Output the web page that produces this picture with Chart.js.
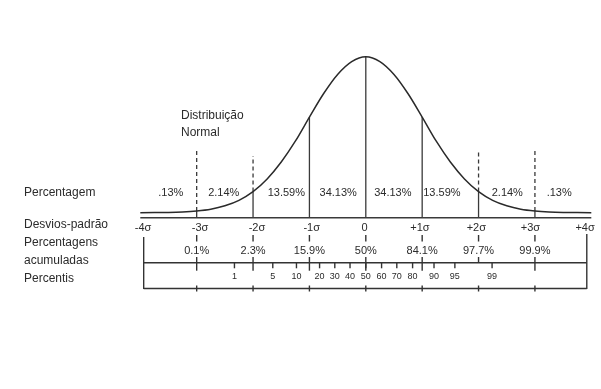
<!DOCTYPE html>
<html>
<head>
<meta charset="utf-8">
<script src="https://cdn.jsdelivr.net/npm/chart.js@4.4.1/dist/chart.umd.min.js"></script>
<style>
  body { margin: 0; background: #fff; }
  #wrap { width: 601px; height: 389px; }
</style>
</head>
<body>
<div id="wrap"><canvas id="grafico"></canvas></div>
<script>
// Curva normal (0 = eixo, 100 = pico)
const curvaX = [-4, -3.75, -3.5, -3.25, -3, -2.75, -2.5, -2.25, -2, -1.75, -1.5, -1.25, -1, -0.75, -0.5, -0.25, 0,
  0.25, 0.5, 0.75, 1, 1.25, 1.5, 1.75, 2, 2.25, 2.5, 2.75, 3, 3.25, 3.5, 3.75, 4];
const curvaY = [3.1, 3.2, 3.3, 3.6, 4.2, 5.3, 7.4, 10.8, 16.2, 24.1, 34.6, 47.5, 62.5, 77, 89, 97, 100,
  97, 89, 77, 62.5, 47.5, 34.6, 24.1, 16.2, 10.8, 7.4, 5.3, 4.2, 3.6, 3.3, 3.2, 3.1];

// Linhas verticais
const sigmas = [-3, -2, -1, 0, 1, 2, 3];
const tracejadoSigma = [-3, -2, 2, 3];
const tracejadoTopo = [41.4, 38.3, 41.4, 41.4];

// Textos
const percentagens = [".13%", "2.14%", "13.59%", "34.13%", "34.13%", "13.59%", "2.14%", ".13%"];
const posPercentagens = [-3.46, -2.52, -1.41, -0.49, 0.48, 1.35, 2.51, 3.43];
const rotulosSigma = ["-4σ", "-3σ", "-2σ", "-1σ", "0", "+1σ", "+2σ", "+3σ", "+4σ"];
const posRotulosSigma = [-3.95, -2.94, -1.93, -0.96, -0.02, 0.96, 1.96, 2.92, 3.89];
const acumuladas = ["0.1%", "2.3%", "15.9%", "50%", "84.1%", "97.7%", "99.9%"];
const percentis = ["1", "5", "10", "20", "30", "40", "50", "60", "70", "80", "90", "95", "99"];
const posPercentis = [-2.33, -1.65, -1.23, -0.82, -0.55, -0.28, 0, 0.28, 0.55, 0.83, 1.21, 1.58, 2.24];

const fonte = '"Liberation Sans", Arial, sans-serif';

let alturaCurva = (s) => curvaY[curvaX.indexOf(s)];

let segmento = (pontos, tracejado, largura) => ({
  data: pontos,
  showLine: true,
  clip: false,
  borderColor: "#3a3a3a",
  borderWidth: largura || 1.3,
  borderDash: tracejado ? [4, 3] : [],
  pointRadius: 0,
});

const datasets = [
  {
    data: curvaX.map((x, i) => ({ x: x, y: curvaY[i] })),
    showLine: true,
    clip: false,
    borderColor: "#2a2a2a",
    borderWidth: 1.5,
    cubicInterpolationMode: "monotone",
    pointRadius: 0,
  },
  segmento([{ x: -4, y: 0 }, { x: 4, y: 0 }], false, 1.6),
  ...sigmas.map((s) => segmento([{ x: s, y: 0 }, { x: s, y: alturaCurva(s) }], false)),
  ...tracejadoSigma.map((s, i) =>
    segmento([{ x: s, y: alturaCurva(s) }, { x: s, y: tracejadoTopo[i] }], true)
  ),
];

// Textos e escalas de baixo
const rotulos = {
  id: "rotulos",
  afterDatasetsDraw(chart) {
    const { ctx } = chart;
    const px = (v) => chart.scales.x.getPixelForValue(v);
    const linha = (x1, y1, x2, y2) => {
      ctx.beginPath();
      ctx.moveTo(x1, y1);
      ctx.lineTo(x2, y2);
      ctx.stroke();
    };

    ctx.save();
    ctx.fillStyle = "#2b2b2b";
    ctx.strokeStyle = "#333";
    ctx.lineWidth = 1.4;
    ctx.textBaseline = "middle";

    // Títulos da esquerda
    ctx.textAlign = "left";
    ctx.font = "12px " + fonte;
    ctx.fillText("Percentagem", 24, 193);
    ctx.fillText("Desvios-padrão", 24, 225);
    ctx.fillText("Percentagens", 24, 243);
    ctx.fillText("acumuladas", 24, 261);
    ctx.fillText("Percentis", 24, 279);
    ctx.fillText("Distribuição", 181, 116);
    ctx.fillText("Normal", 181, 133);

    ctx.textAlign = "center";
    ctx.font = "11px " + fonte;
    percentagens.forEach((t, i) => ctx.fillText(t, px(posPercentagens[i]), 193));
    rotulosSigma.forEach((t, i) => ctx.fillText(t, px(posRotulosSigma[i]), 228));
    acumuladas.forEach((t, i) => ctx.fillText(t, px(sigmas[i]), 251));

    // Réguas
    const esq = px(-3.94), dir = px(3.92);
    linha(esq, 237, esq, 289);
    linha(dir, 234, dir, 289);
    linha(esq, 262.7, dir, 262.7);
    linha(esq, 288.5, dir, 288.5);

    sigmas.forEach((s) => {
      const x = px(s);
      linha(x, 235, x, 241.5);
      linha(x, 257, x, s === 2 ? 262.7 : 270.7);
      linha(x, 285.5, x, 291.5);
    });

    ctx.font = "9px " + fonte;
    posPercentis.forEach((p, i) => {
      const x = px(p);
      linha(x, 262.7, x, 268.3);
      ctx.fillText(percentis[i], x, 277);
    });

    ctx.restore();
  },
};

new Chart(document.getElementById("grafico"), {
  type: "scatter",
  data: { datasets: datasets },
  options: {
    responsive: true,
    maintainAspectRatio: false,
    animation: false,
    layout: { padding: { left: 140.3, right: 9.7, top: 56.7, bottom: 171.3 } },
    plugins: { legend: { display: false }, tooltip: { enabled: false } },
    scales: {
      x: { type: "linear", min: -4, max: 4, display: false },
      y: { min: 0, max: 100, display: false },
    },
  },
  plugins: [rotulos],
});
</script>
</body>
</html>
